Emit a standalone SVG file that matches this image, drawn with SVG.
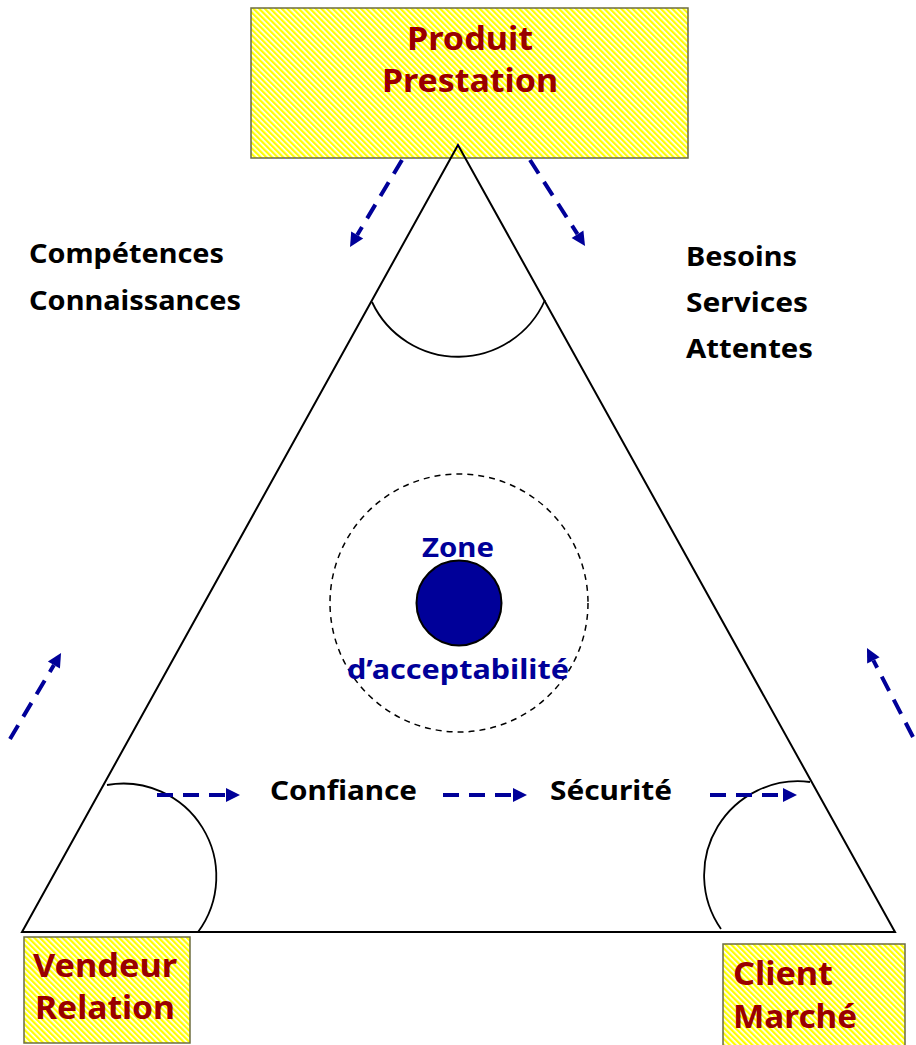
<svg xmlns="http://www.w3.org/2000/svg" width="916" height="1045" viewBox="0 0 916 1045">
  <defs>
    <pattern id="hatch" patternUnits="userSpaceOnUse" width="4" height="4" patternTransform="rotate(-45)">
      <rect width="4" height="4" fill="#ffffff"/>
      <rect width="2.3" height="4" fill="#ffff00"/>
    </pattern>
    <marker id="ah" markerUnits="userSpaceOnUse" markerWidth="15" markerHeight="15" refX="0" refY="7" orient="auto" overflow="visible">
      <path d="M0,0 L14,7 L0,14 Z" fill="#000099"/>
    </marker>
    <style>
      .box { fill: url(#hatch); stroke: #6e6e40; stroke-width: 1.5; }
      .title { font-family: "Noto Sans", "DejaVu Sans", sans-serif; font-weight: bold; fill: #990000; }
      .lbl { font-family: "Noto Sans", "DejaVu Sans", sans-serif; font-weight: bold; fill: #000000; font-size: 26px; }
      .blue { font-family: "Noto Sans", "DejaVu Sans", sans-serif; font-weight: bold; fill: #000099; font-size: 27px; }
      .edge { fill: none; stroke: #000; stroke-width: 2; }
      .arc { fill: none; stroke: #000; stroke-width: 1.8; }
      .arr { fill: none; stroke: #000099; stroke-width: 4; stroke-dasharray: 16 10; marker-end: url(#ah); }
    </style>
  </defs>

  <g id="node-produit">
    <rect class="box" x="251" y="8" width="437" height="150"/>
    <text class="title" font-size="33" x="470" y="50" text-anchor="middle" textLength="126" lengthAdjust="spacingAndGlyphs">Produit</text>
    <text class="title" font-size="33" x="470" y="92" text-anchor="middle" textLength="176" lengthAdjust="spacingAndGlyphs">Prestation</text>
  </g>

  <g id="node-vendeur">
    <rect class="box" x="24" y="937" width="166" height="106"/>
    <text class="title" font-size="33" x="33" y="977" textLength="144" lengthAdjust="spacingAndGlyphs">Vendeur</text>
    <text class="title" font-size="33" x="35" y="1019" textLength="140" lengthAdjust="spacingAndGlyphs">Relation</text>
  </g>

  <g id="node-client">
    <rect class="box" x="723" y="944" width="182" height="104"/>
    <text class="title" font-size="33" x="733" y="985" textLength="100" lengthAdjust="spacingAndGlyphs">Client</text>
    <text class="title" font-size="33" x="733" y="1028" textLength="124" lengthAdjust="spacingAndGlyphs">Marché</text>
  </g>

  <g id="triangle">
    <path class="edge" d="M458,145 L22,932 L895,932 Z"/>
    <path class="arc" d="M372,302 A95,95 0 0,0 545,300"/>
    <path class="arc" d="M107,785 A93,93 0 0,1 198,932"/>
    <path class="arc" d="M810,782 A94,94 0 0,0 721,929"/>
  </g>

  <g id="node-zone">
    <circle cx="459" cy="603" r="129" fill="none" stroke="#000" stroke-width="1.5" stroke-dasharray="6 5"/>
    <circle cx="459" cy="603" r="42.5" fill="#000099" stroke="#000" stroke-width="2"/>
    <text class="blue" x="458" y="557" text-anchor="middle" textLength="72" lengthAdjust="spacingAndGlyphs">Zone</text>
    <text class="blue" x="458" y="679" text-anchor="middle" textLength="222" lengthAdjust="spacingAndGlyphs">d’acceptabilité</text>
  </g>

  <g id="labels">
    <text class="lbl" x="29" y="263" textLength="195" lengthAdjust="spacingAndGlyphs">Compétences</text>
    <text class="lbl" x="29" y="310" textLength="212" lengthAdjust="spacingAndGlyphs">Connaissances</text>
    <text class="lbl" x="686" y="266" textLength="111" lengthAdjust="spacingAndGlyphs">Besoins</text>
    <text class="lbl" x="686" y="312" textLength="122" lengthAdjust="spacingAndGlyphs">Services</text>
    <text class="lbl" x="686" y="358" textLength="127" lengthAdjust="spacingAndGlyphs">Attentes</text>
    <text class="lbl" x="270" y="800" textLength="147" lengthAdjust="spacingAndGlyphs">Confiance</text>
    <text class="lbl" x="550" y="800" textLength="122" lengthAdjust="spacingAndGlyphs">Sécurité</text>
  </g>

  <g id="connectors">
    <line class="arr" x1="402" y1="160" x2="357.2" y2="235"/>
    <line class="arr" x1="530" y1="160" x2="577.5" y2="234.2"/>
    <line class="arr" x1="10" y1="739" x2="53.9" y2="665"/>
    <line class="arr" x1="913" y1="737" x2="873.4" y2="660.4"/>
    <line class="arr" x1="157" y1="795" x2="226" y2="795"/>
    <line class="arr" x1="443" y1="795" x2="513" y2="795"/>
    <line class="arr" x1="710" y1="795" x2="783" y2="795"/>
  </g>
</svg>
